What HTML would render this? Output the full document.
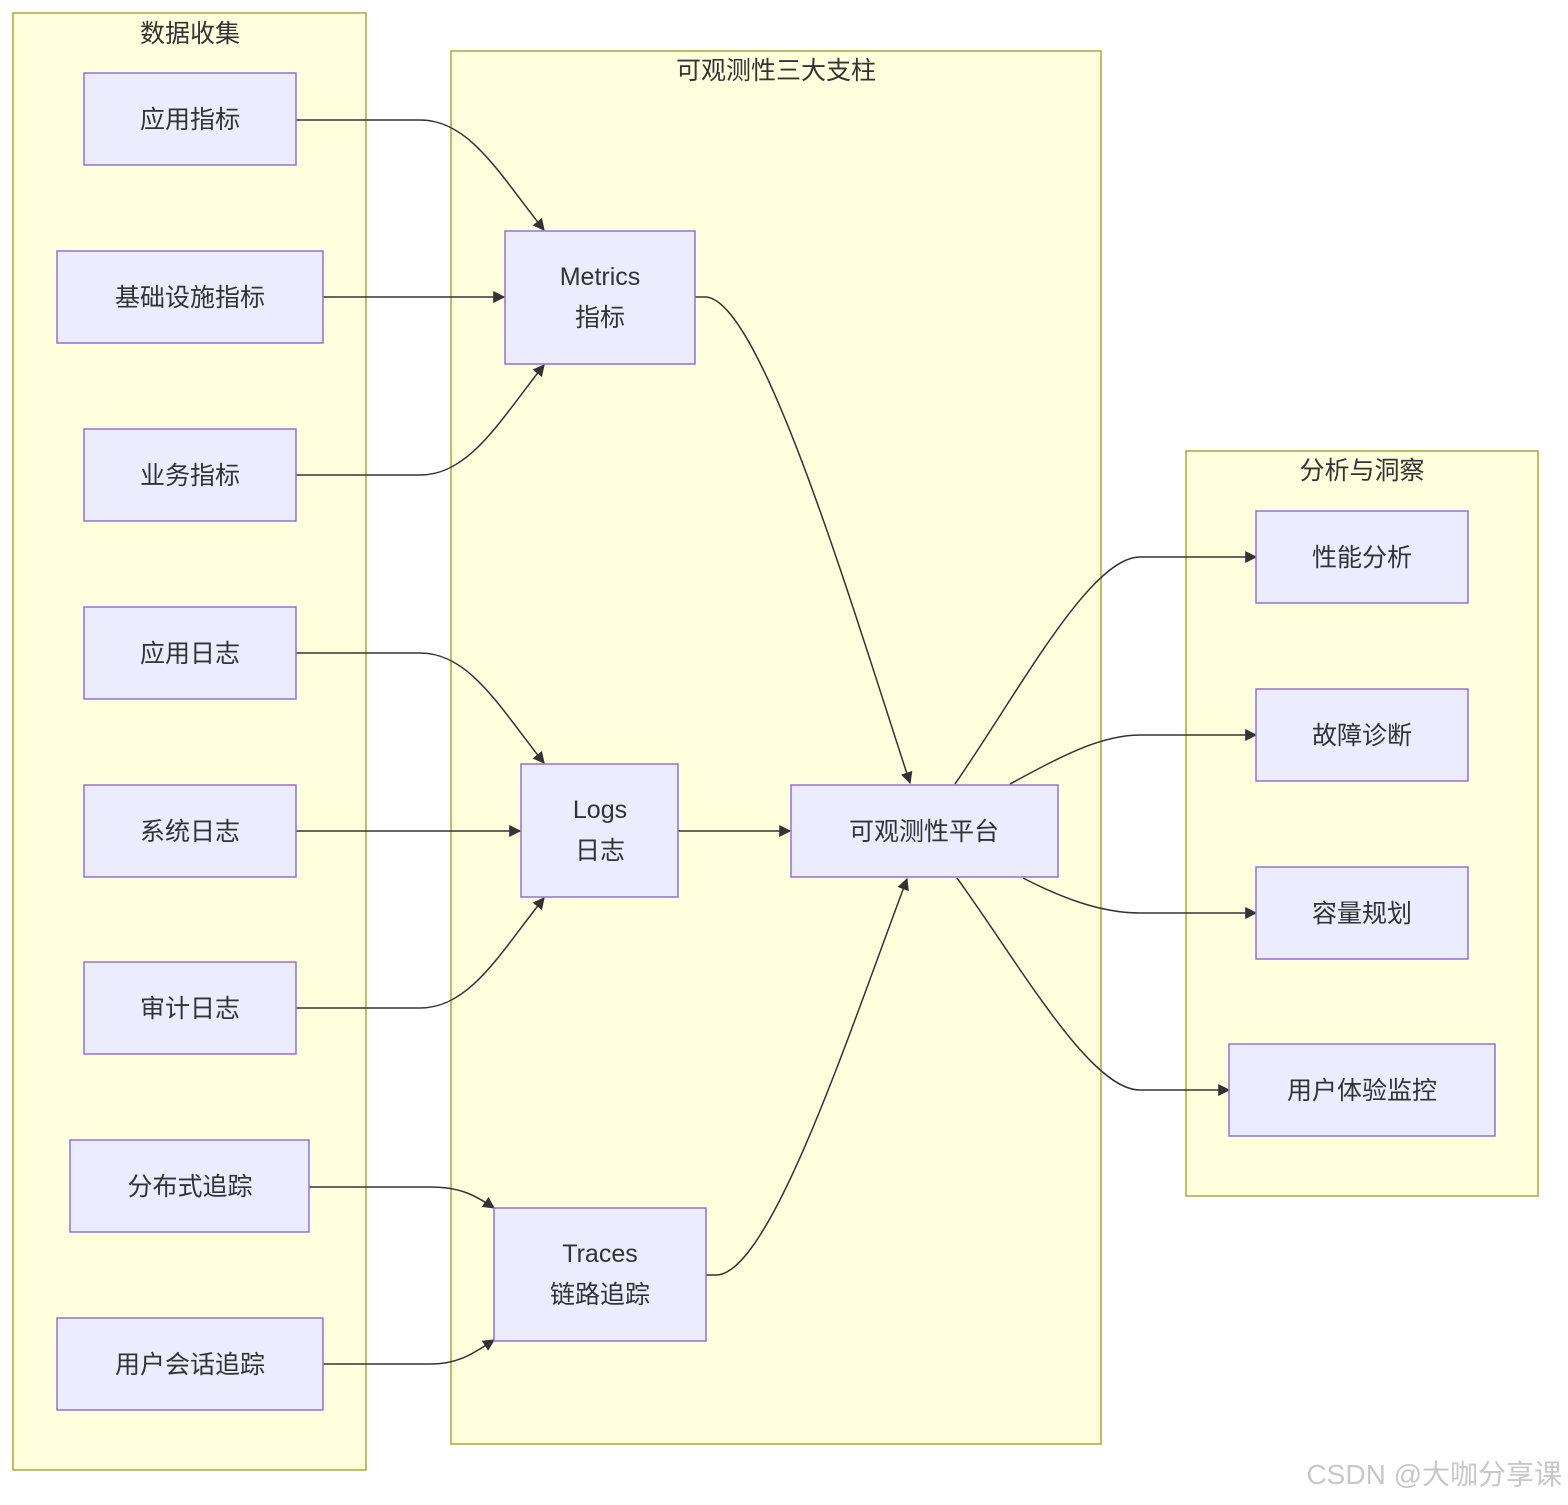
<!DOCTYPE html>
<html><head><meta charset="utf-8"><style>
html,body{margin:0;padding:0;background:#fff;}
svg text{font-family:"Liberation Sans","Noto Sans CJK SC",sans-serif;fill:#333;}
</style></head><body>
<svg width="1568" height="1500" viewBox="0 0 1568 1500" xmlns="http://www.w3.org/2000/svg">
<defs><marker id="a" viewBox="0 0 10 10" refX="9" refY="5" markerWidth="8" markerHeight="8" orient="auto"><path d="M0,0L10,5L0,10z" fill="#333"/></marker></defs>
<g fill="#ffffde" stroke="#aaaa33" stroke-width="1.5">
<rect x="13" y="13" width="353" height="1457"/>
<rect x="451" y="51" width="650" height="1393"/>
<rect x="1186" y="451" width="352" height="745"/>
</g>
<g font-size="25" text-anchor="middle">
<text x="190" y="42">数据收集</text>
<text x="776" y="79">可观测性三大支柱</text>
<text x="1362" y="479">分析与洞察</text>
</g>
<g fill="none" stroke="#333" stroke-width="1.5" marker-end="url(#a)">
<path d="M296,120 L420,120 C470,120 500,175 544,230"/>
<path d="M323,297 L504,297"/>
<path d="M296,475 L420,475 C470,475 500,420 544,365"/>
<path d="M296,653 L420,653 C470,653 500,708 544,763"/>
<path d="M296,831 L520,831"/>
<path d="M296,1008 L420,1008 C470,1008 500,953 544,898"/>
<path d="M309,1187 L430,1187 C460,1187 475,1195 494,1208"/>
<path d="M323,1364 L430,1364 C460,1364 475,1352 494,1340"/>
<path d="M695,297 L705,297 C760,297 850,600 910,783"/>
<path d="M678,831 L790,831"/>
<path d="M706,1275 L716,1275 C770,1275 850,1030 907,879"/>
<path d="M955,784 C1020,690 1090,557 1140,557 L1256,557"/>
<path d="M1010,784 C1060,757 1100,735 1140,735 L1256,735"/>
<path d="M1023,878 C1060,897 1100,913 1140,913 L1256,913"/>
<path d="M957,878 C1020,965 1090,1090 1140,1090 L1229,1090"/>
</g>
<g fill="#ececff" stroke="#9370db" stroke-width="1.5">
<rect x="84" y="73" width="212" height="92"/>
<rect x="57" y="251" width="266" height="92"/>
<rect x="84" y="429" width="212" height="92"/>
<rect x="84" y="607" width="212" height="92"/>
<rect x="84" y="785" width="212" height="92"/>
<rect x="84" y="962" width="212" height="92"/>
<rect x="70" y="1140" width="239" height="92"/>
<rect x="57" y="1318" width="266" height="92"/>
<rect x="505" y="231" width="190" height="133"/>
<rect x="521" y="764" width="157" height="133"/>
<rect x="494" y="1208" width="212" height="133"/>
<rect x="791" y="785" width="267" height="92"/>
<rect x="1256" y="511" width="212" height="92"/>
<rect x="1256" y="689" width="212" height="92"/>
<rect x="1256" y="867" width="212" height="92"/>
<rect x="1229" y="1044" width="266" height="92"/>
</g>
<g font-size="25" text-anchor="middle">
<text x="190" y="128">应用指标</text>
<text x="190" y="306">基础设施指标</text>
<text x="190" y="484">业务指标</text>
<text x="190" y="662">应用日志</text>
<text x="190" y="840">系统日志</text>
<text x="190" y="1017">审计日志</text>
<text x="190" y="1195">分布式追踪</text>
<text x="190" y="1373">用户会话追踪</text>
<text x="600" y="285">Metrics</text><text x="600" y="326">指标</text>
<text x="600" y="818">Logs</text><text x="600" y="859">日志</text>
<text x="600" y="1262">Traces</text><text x="600" y="1303">链路追踪</text>
<text x="924" y="840">可观测性平台</text>
<text x="1362" y="566">性能分析</text>
<text x="1362" y="744">故障诊断</text>
<text x="1362" y="922">容量规划</text>
<text x="1362" y="1099">用户体验监控</text>
</g>
<text x="1562" y="1484" font-size="28" text-anchor="end" style="fill:#c8c8c8">CSDN @大咖分享课</text>
</svg>
</body></html>
